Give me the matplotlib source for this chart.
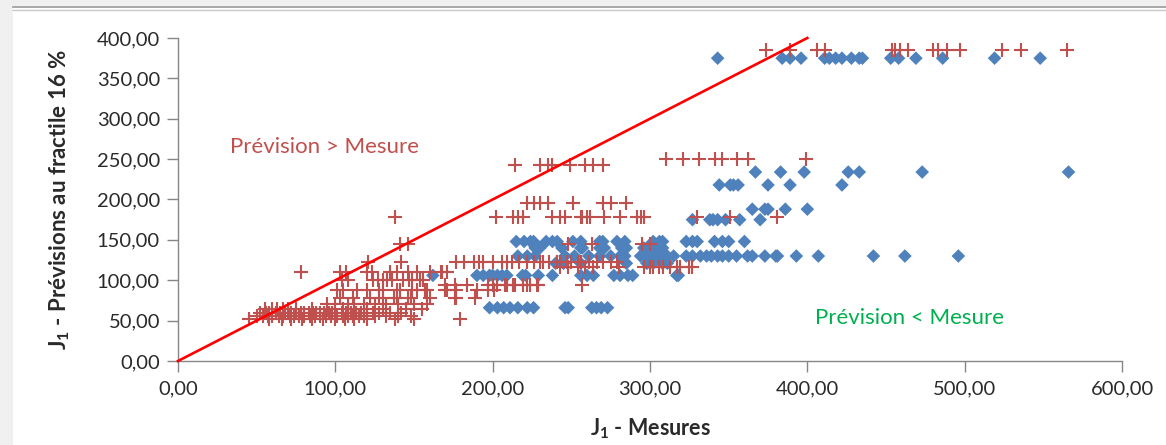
import matplotlib
matplotlib.use("Agg")
import matplotlib.pyplot as plt
from matplotlib.patches import Rectangle
from matplotlib.lines import Line2D
from matplotlib.ticker import FuncFormatter

# ---------------- data ----------------
# Red "+" series: forecast levels (y) and measured values (x) at each level
plus_levels = [385, 250, 243, 196, 178, 145, 122, 116, 110, 100, 94, 88, 78, 70, 65, 60, 56, 52]
plus_385 = [374, 389, 406, 411, 454, 456, 459, 464, 480, 483, 489, 497, 524, 536, 565]
plus_250 = [310, 321, 331, 341, 346, 355, 362, 399]
plus_243 = [214, 230, 235, 238, 249, 259, 264, 270]
plus_196 = [222, 226, 230, 235, 251, 270, 275, 285]
plus_178 = [138, 202, 213, 216, 219, 238, 243, 246, 256, 257, 260, 262, 271, 281,
            292, 294, 296, 330, 351, 381]
plus_145 = [141, 146, 248, 263, 295, 300]
plus_122 = [121, 142, 177, 182, 188, 191, 194, 200, 206, 209, 212, 217, 222, 226,
            230, 232, 236, 241, 243, 247, 250, 254, 256, 261, 266, 270, 275, 279]
plus_116 = [243, 248, 254, 259, 264, 280, 296, 300, 302, 306, 308, 313, 317, 319, 325, 327]
plus_110 = [78, 103, 107, 120, 123, 135, 139, 146, 152, 160, 167, 168, 171]
plus_100 = [104, 108, 124, 127, 130, 133, 136, 143, 147, 149, 154, 156]
plus_94 = [170, 176, 184, 197, 200, 203, 208, 209, 213, 214, 219, 222, 224, 228, 229, 257]
plus_88 = [101, 105, 114, 120, 128, 130, 139, 141, 149, 152, 157, 158, 170, 171, 177,
           190, 197, 201]
plus_78 = [103, 111, 122, 128, 130, 137, 139, 146, 148, 160, 176, 177, 189]
plus_70 = [95, 100, 108, 112, 118, 125, 132, 140, 150, 158]
plus_65 = [55, 60, 63, 67, 70, 75, 85, 95, 105, 112, 120, 130, 145, 155]
plus_60 = [52, 56, 58, 62, 65, 68, 70, 72, 75, 78, 80, 83, 86, 88, 90, 93, 96, 98, 100,
           104, 107, 110, 113, 116, 120, 124, 128, 135, 142]
plus_56 = [50, 54, 57, 60, 64, 67, 71, 74, 77, 80, 84, 87, 90, 94, 97, 101, 105, 108,
           111, 115, 118, 125, 132, 140, 148]
plus_52 = [45, 58, 66, 72, 79, 85, 92, 100, 106, 112, 120, 138, 150, 179]
plus_rows = [plus_385, plus_250, plus_243, plus_196, plus_178, plus_145, plus_122,
             plus_116, plus_110, plus_100, plus_94, plus_88, plus_78, plus_70, plus_65,
             plus_60, plus_56, plus_52]

# Blue diamond series
diamond_levels = [375, 234, 218, 188, 175, 148, 140, 130, 121, 106, 66]
diamond_375 = [343, 384, 389, 396, 411, 414, 418, 422, 428, 433, 435, 453, 458, 469,
               486, 519, 548]
diamond_234 = [367, 383, 398, 426, 433, 473, 566]
diamond_218 = [344, 351, 353, 356, 375, 389, 422]
diamond_188 = [365, 373, 375, 386, 400]
diamond_175 = [327, 338, 340, 343, 348, 357, 370]
diamond_148 = [215, 220, 224, 226, 234, 238, 241, 251, 256, 268, 270, 279, 284, 302,
               306, 308, 323, 327, 330, 341, 346, 350, 360]
diamond_140 = [227, 230, 244, 256, 257, 268, 271, 282, 285, 296, 298, 302, 306, 308]
diamond_130 = [216, 222, 227, 246, 252, 261, 268, 275, 281, 284, 294, 298, 301, 305,
               306, 311, 315, 323, 327, 332, 336, 339, 343, 346, 350, 355, 362, 365,
               373, 380, 381, 393, 407, 442, 462, 496]
diamond_121 = [240, 245, 256, 285, 298, 302, 308, 311]
diamond_106 = [162, 190, 194, 198, 200, 203, 206, 209, 219, 221, 229, 238, 256, 260,
               264, 277, 281, 286, 289, 317, 318]
diamond_66 = [198, 203, 207, 211, 216, 222, 226, 246, 248, 263, 266, 269, 273]
diamond_rows = [diamond_375, diamond_234, diamond_218, diamond_188, diamond_175,
                diamond_148, diamond_140, diamond_130, diamond_121, diamond_106, diamond_66]

# reference line y = x
line_x = [0, 400]
line_y = [0, 400]

x_ticks = [0, 100, 200, 300, 400, 500, 600]
y_ticks = [0, 50, 100, 150, 200, 250, 300, 350, 400]

# ---------------- figure ----------------
plt.rcParams['font.family'] = ['Lato', 'DejaVu Sans']
plt.rcParams['mathtext.fontset'] = 'custom'
plt.rcParams['mathtext.bf'] = 'Lato:bold'
plt.rcParams['mathtext.rm'] = 'Lato:bold'

W, H = 1166, 445
fig = plt.figure(figsize=(W / 100, H / 100), dpi=100)
fig.patch.set_facecolor('white')

# window frame decorations
fig.add_artist(Rectangle((0, 0), 13 / W, 1, transform=fig.transFigure,
                         facecolor='#f0f0f0', edgecolor='none', zorder=0))
fig.add_artist(Rectangle((0, 1 - 6 / H), 1, 6 / H, transform=fig.transFigure,
                         facecolor='#f0f0f0', edgecolor='none', zorder=0))
fig.add_artist(Line2D([13 / W, 1], [1 - 7 / H, 1 - 7 / H], transform=fig.transFigure,
                      color='#9a9a9a', lw=1.2))
fig.add_artist(Line2D([13 / W, 1], [1 - 10 / H, 1 - 10 / H], transform=fig.transFigure,
                      color='#c8c8c8', lw=1.0))

ax = fig.add_axes([178 / W, 1 - 361 / H, (1122 - 178) / W, (361 - 38) / H])
ax.set_xlim(0, 600)
ax.set_ylim(0, 400)

for lvl, xs in zip(diamond_levels, diamond_rows):
    ax.scatter(xs, [lvl] * len(xs), marker='D', s=48, color='#4f81bd',
               edgecolors='none', zorder=3)
for lvl, xs in zip(plus_levels, plus_rows):
    ax.scatter(xs, [lvl] * len(xs), marker='+', s=100, color='#c0504d',
               linewidths=1.5, zorder=4)

ax.plot(line_x, line_y, color='#ff0000', lw=1.9, zorder=5, clip_on=False)

for s in ['top', 'right']:
    ax.spines[s].set_visible(False)
for s in ['left', 'bottom']:
    ax.spines[s].set_color('#868686')
    ax.spines[s].set_linewidth(1.0)

ax.set_xticks(x_ticks)
ax.set_yticks(y_ticks)
fmt = FuncFormatter(lambda v, p: f"{v:.2f}".replace('.', ','))
ax.xaxis.set_major_formatter(fmt)
ax.yaxis.set_major_formatter(fmt)
ax.tick_params(axis='both', direction='out', length=8, width=1.0, color='#868686',
               labelsize=14.5, labelcolor='#2a2a2a')
ax.tick_params(axis='x', pad=6)
ax.tick_params(axis='y', pad=5)

ax.set_xlabel(r"$\mathbf{J_1}$ - Mesures", fontsize=15.5, fontweight='bold',
              color='#2a2a2a', labelpad=14)
ax.set_ylabel(r"$\mathbf{J_1}$ - Prévisions au fractile 16 %", fontsize=16,
              fontweight='bold', color='#2a2a2a', labelpad=18)

ax.text(33, 265, "Prévision > Mesure", fontsize=16, color='#c0504d', va='center',
        ha='left')
ax.text(405, 53, "Prévision < Mesure", fontsize=16, color='#00b050', va='center',
        ha='left')

fig.savefig('out.png', dpi=100, facecolor='white')
